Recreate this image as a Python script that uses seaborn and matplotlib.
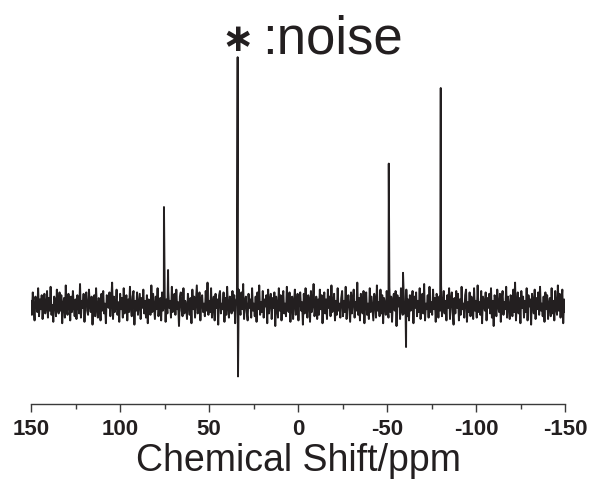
import numpy as np
import pandas as pd
import matplotlib
matplotlib.use("Agg")
import matplotlib.pyplot as plt
from matplotlib.ticker import MultipleLocator
import seaborn as sns

# baseline noise (arbitrary units), left (150 ppm) to right (-150 ppm)
noise = [
    3, -7, 9, -2, -11, 6, 1, -5, 12, -8, 4, -3, 7, -10, 2, 8, -6, -1, 10, -9, 5, -4, 13, -7, 0,
    -12, 6, 3, -8, 11, -2, -6, 9, -4, 7, -13, 1, 5, -9, 14, -3, -7, 8, 2, -11, 6, -5, 10, -1, -8,
    4, -10, 7, 1, -6, 15, -9, 3, -2, 8, -12, 5, 9, -4, -7, 11, 0, -5, 6, -14, 3, 7, -8, 12, -3,
    -9, 5, 2, -11, 8, -4, 10, -6, 1, -13, 7, 4, -2, 9, -8, 3, 16, -10, 6, -5, -1, 11, -7, 2, -12,
    8, -3, 5, -9, 12, -6, 0, 7, -11, 4, -5, 13, -2, -8, 6, 10, -14, 3, -4, 9, -7, 1, 8, -10, 5,
    -2, 11, -6, 3, -9, 7, -13, 4, 2, -7, 14, -5, 8, -1, -10, 6, -3, 12, -8, 1, 5, -11, 9, -4, 0,
    7, -12, 4, -6, 10, -2, 3, -9, 13, -5, -1, 8, -7, 11, -3, 2, -15, 6, 9, -4, -8, 12, -6, 3, -1,
    -10, 8, 1, -7, 5, -13, 11, -3, 6, -9, 2, 14, -6, -2, 9, -11, 4, 7, -5, 1, -8, 10, -4, 16, -7,
    3, -5, 12, -9, 0, 6, -11, 8, -2, 4, -14, 7, 10, -6, 1, -3, 9, -12, 5, -7, 13, -1, -9, 6, 2,
    -6, 10, -4, 7, -13, 3, 5, -8, 11, -1, -7, 9, -3, 15, -10, 2, 6, -5, -11, 8, -2, 4, -9, 12, -4,
    1, -8, 6, -12, 9, -3, 14, -7, 2, -5, 10, -9, 4, -1, 7, -13, 11, -6, 3, 8, -10, 5, -2, 9, -15,
    6, -1, -9, 12, -4, 7, -11, 3, 10, -6, 1, -8, 13, -2, -5, 9, -12, 4, 6, -10, 2, 11, -7, -3, 8,
    -11, 5, 9, -4, 2, -14, 8, -6, 12, -1, -9, 7, 3, -12, 10, -5, 1, 15, -8, -2, 6, -10, 4, -7, 11,
    -3, 7, -13, 2, 9, -6, 4, -10, 11, -2, 6, -8, 14, -5, -1, 8, -11, 3, -7, 12, -4, 1, -9, 5, 10,
    -8, 3, -5, 13, -10, 1, 7, -3, -12, 9, -6, 4, 11, -9, 2, -4, 16, -7, 5, -11, 8, -1, -6, 10, -13,
    4, 9, -7, 1, -10, 12, -5, 6, -2, -11, 8, 3, -9, 14, -4, 2, -8, 11, -6, 7, -13, 5, 0, -7, 10,
    -2, -9, 13, -5, 6, -12, 3, 8, -4, 10, -15, 7, -1, 5, -10, 12, -3, -7, 9, -6, 2, 11, -8, 4, -11,
    7, -4, 1, 10, -13, 6, -2, 9, -8, 3, -5, 12, -10, 4, 8, -6, 15, -11, 1, -3, 7, -9, 13, -5, 2,
    -7, 11, -3, 5, -12, 8, 2, -9, 6, -4, 14, -8, -1, 10, -6, 3, -11, 7, -2, 12, -10, 4, 9, -5, -14,
    5, -6, 10, -2, 8, -11, 4, -7, 13, -3, 1, -9, 7, 11, -12, 2, -5, 9, -8, 6, -1, -10, 12, -4, 3,
    -9, 14, -5, 2, -7, 10, -13, 6, 1, -4, 9, -11, 5, -2, 8, -6, 12, -9, 3, -15, 7, 4, -8, 11, -1,
    -5, 8, -12, 4, 10, -7, 2, -3, 13, -9, 6, -1, -10, 7, 3, -8, 11, -5, 16, -11, 1, 9, -6, 5, -13,
    10, -2, 6, -9, 3, -5, 12, -11, 7, -1, 4, -14, 8, 2, -6, 11, -10, 5, -3, 9, -7, 13, -4, 1, -8,
    6, -12, 9, -3, 7, -10, 1, 5, -8, 12, -6, 3, -11, 10, -2, -7, 14, -4, 8, -9, 2, 11, -13, 4, -5,
]

# sharp lines (ppm, intensity), same units as the noise
peak_ppm = [75.3, 73.0, 33.9, 33.7, -51.0, -59.0, -60.7, -80.2]
peak_int = [70, 25, 177, -51, 101, 23, -30, 155]

ticks = [150, 100, 50, 0, -50, -100, -150]

ink = "#231f20"

sns.set_style("white")
plt.rcParams["font.family"] = ["Liberation Sans", "DejaVu Sans"]
plt.rcParams["axes.unicode_minus"] = False

ppm = np.linspace(150, -150, len(noise))
spec = pd.concat([
    pd.DataFrame({"ppm": ppm, "intensity": noise}),
    pd.DataFrame({"ppm": peak_ppm, "intensity": peak_int}),
]).sort_values("ppm", ascending=False).reset_index(drop=True)

fig = plt.figure(figsize=(5.89, 4.90), dpi=100)
ax = fig.add_axes([31 / 589, 86 / 490, 534 / 589, 364 / 490])

sns.lineplot(data=spec, x="ppm", y="intensity", sort=False, estimator=None,
             color=ink, linewidth=1.4, ax=ax)

ax.set_xlim(150, -150)
ax.set_ylim(-70.7, 189.3)
for s in ["left", "right", "top"]:
    ax.spines[s].set_visible(False)
ax.spines["bottom"].set_color("#3a3a3a")
ax.spines["bottom"].set_linewidth(1.0)
ax.set_yticks([])
ax.set_ylabel("")
ax.set_xticks(ticks)
ax.set_xticklabels([str(t) for t in ticks], fontsize=16, fontweight="bold", color=ink)
ax.xaxis.set_minor_locator(MultipleLocator(25))
ax.tick_params(axis="x", which="major", direction="out", length=6, width=1.0,
               color="#3a3a3a", pad=5, bottom=True)
ax.tick_params(axis="x", which="minor", direction="out", length=3.5, width=1.0,
               color="#3a3a3a", bottom=True)
ax.set_xlabel("Chemical Shift/ppm", fontsize=27, color=ink, labelpad=2)

ax.text(33.8, 189, "\u2217", fontsize=28, fontweight="bold", color=ink,
        ha="center", va="center", clip_on=False, family=["DejaVu Sans"])
ax.text(20.2, 180, ":noise", fontsize=38, color=ink, ha="left", va="baseline",
        clip_on=False)

fig.savefig("out.png", dpi=100)
